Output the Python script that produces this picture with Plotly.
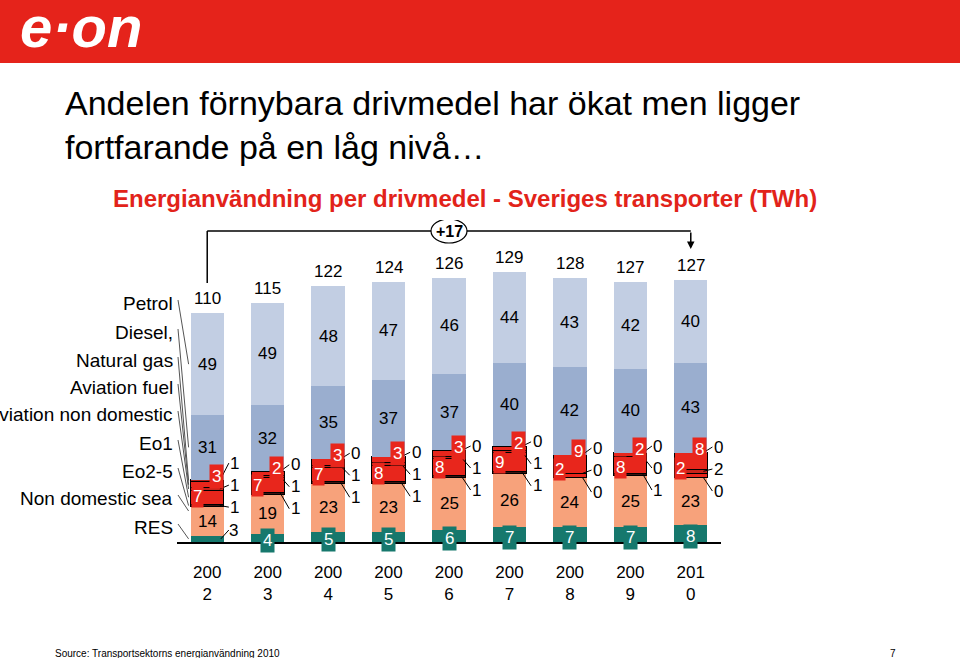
import plotly.graph_objects as go

# ---------------- data ----------------
years = ["2002", "2003", "2004", "2005", "2006", "2007", "2008", "2009", "2010"]
year_ticks = ["200<br>2", "200<br>3", "200<br>4", "200<br>5", "200<br>6",
              "200<br>7", "200<br>8", "200<br>9", "201<br>0"]
totals = [110, 115, 122, 124, 126, 129, 128, 127, 127]

# series, listed top-down as in the left-hand labels
petrol = [49, 49, 48, 47, 46, 44, 43, 42, 40]
diesel = [31, 32, 35, 37, 37, 40, 42, 40, 43]
natural_gas = [1, 0, 0, 0, 0, 0, 0, 0, 0]
aviation_fuel = [3, 2, 3, 3, 3, 2, 9, 2, 8]
aviation_non_domestic = [1, 1, 1, 1, 1, 1, 0, 0, 2]
eo1 = [7, 7, 7, 8, 8, 9, 2, 8, 2]
eo2_5 = [1, 1, 1, 1, 1, 1, 0, 1, 0]
non_domestic_sea = [14, 19, 23, 23, 25, 26, 24, 25, 23]
res = [3, 4, 5, 5, 6, 7, 7, 7, 8]

legend_names = ["Petrol", "Diesel,", "Natural gas", "Aviation fuel",
                "Aviation non domestic", "Eo1", "Eo2-5", "Non domestic sea", "RES"]
growth_label = "+17"
title_lines = ["Andelen förnybara drivmedel har ökat men ligger",
               "fortfarande på en låg nivå…"]
subtitle = "Energianvändning per drivmedel - Sveriges transporter (TWh)"
source = "Source: Transportsektorns energianvändning 2010"
page_no = "7"

# ---------------- layout geometry ----------------
W, H = 960, 658
L, R, T, B = 177, 721, 220, 542
XMIN, XMAX = -0.5, 8.5
PXU = 2.08
YMAX = (B - T) / PXU
FONT = "Liberation Sans, Arial, sans-serif"


def px_x(px):
    return (px - L) / (R - L)


def px_y(py):
    return (B - py) / (B - T)


def dx(px):
    return px * (XMAX - XMIN) / (R - L)


def dy(px):
    return px / PXU


x = list(range(len(years)))
HALF = 0.275

C_PETROL = "#c2cee3"
C_DIESEL = "#9aaecf"
C_RED = "#e8261c"
C_SALMON = "#f7a27b"
C_TEAL = "#16786d"

# stacking bottom-up
stack = [
    ("RES", res, C_TEAL, None),
    ("Non domestic sea", non_domestic_sea, C_SALMON, None),
    ("Eo2-5", eo2_5, "#3a1410", "black"),
    ("Eo1", eo1, C_RED, "black"),
    ("Aviation non domestic", aviation_non_domestic, "#c9231a", "black"),
    ("Aviation fuel", aviation_fuel, C_RED, "black"),
    ("Natural gas", natural_gas, "#b0201a", "black"),
    ("Diesel", diesel, C_DIESEL, None),
    ("Petrol", petrol, C_PETROL, None),
]

fig = go.Figure()
for name, vals, col, lc in stack:
    fig.add_trace(go.Bar(
        x=x, y=vals, name=name, width=0.55,
        marker=dict(color=col, line=dict(color=lc or col, width=1 if lc else 0)),
        hoverinfo="x+y+name", showlegend=False))

ann = []
shapes = []

# cumulative bases
bases = {}
cum = [0] * len(x)
for name, vals, col, lc in stack:
    bases[name] = cum[:]
    cum = [c + v for c, v in zip(cum, vals)]
tops = cum

for i in x:
    # totals
    ann.append(dict(x=i, y=tops[i], text=str(totals[i]), showarrow=False,
                    yanchor="bottom", yshift=3, font=dict(size=17, color="black")))
    # petrol / diesel / salmon labels
    for nm, vals in [("Petrol", petrol), ("Diesel", diesel), ("Non domestic sea", non_domestic_sea)]:
        ann.append(dict(x=i, y=bases[nm][i] + vals[i] / 2, text=str(vals[i]),
                        showarrow=False, font=dict(size=17, color="black")))
    # RES label
    if i == 0:
        lx, ly = i + HALF + dx(10), dy(12)
        ann.append(dict(x=lx, y=ly, text=str(res[i]), showarrow=False,
                        font=dict(size=17, color="black")))
        shapes.append(dict(type="line", x0=i + HALF - dx(3), y0=res[i] / 2,
                           x1=lx - dx(5), y1=ly, line=dict(color="black", width=1)))
    else:
        ann.append(dict(x=i, y=res[i] / 2, text=str(res[i]), showarrow=False,
                        bgcolor=C_TEAL, borderpad=2, yshift=-3,
                        font=dict(size=17, color="white")))
    # red block
    blk_bot = bases["Eo2-5"][i]
    blk_top = bases["Diesel"][i]
    blk_mid = (blk_bot + blk_top) / 2
    ann.append(dict(x=i - dx(10), y=blk_mid, text=str(eo1[i]), showarrow=False,
                    bgcolor=C_RED, borderpad=1, yshift=-3,
                    font=dict(size=17, color="white")))
    ann.append(dict(x=i + dx(9), y=blk_top, text=str(aviation_fuel[i]), showarrow=False,
                    bgcolor=C_RED, borderpad=2, yshift=3,
                    font=dict(size=17, color="white")))
    # small segments labelled outside to the right
    lx = i + HALF + dx(11)
    shift = 12 if i == 0 else 0
    for nm, vals, off in [("Natural gas", natural_gas, 18),
                          ("Aviation non domestic", aviation_non_domestic, -4),
                          ("Eo2-5", eo2_5, -26)]:
        ly = blk_mid + dy(off + shift)
        seg_y = bases[nm][i] + vals[i] / 2
        ann.append(dict(x=lx, y=ly, text=str(vals[i]), showarrow=False,
                        font=dict(size=17, color="black")))
        shapes.append(dict(type="line", x0=i + HALF - dx(4), y0=seg_y,
                           x1=lx - dx(6), y1=ly, line=dict(color="black", width=1)))

# left-hand category labels with leader lines to the first bar
label_py = [303, 332, 360, 387, 414, 443, 471, 498, 527]
seg_order = ["Petrol", "Diesel", "Natural gas", "Aviation fuel", "Aviation non domestic",
             "Eo1", "Eo2-5", "Non domestic sea", "RES"]
seg_vals = dict((nm, v) for nm, v, _, _ in stack)
for txt, py, nm in zip(legend_names, label_py, seg_order):
    ann.append(dict(x=px_x(175), y=px_y(py), xref="paper", yref="paper", text=txt,
                    showarrow=False, xanchor="right", yanchor="middle",
                    font=dict(size=19, color="black")))
    seg_y = bases[nm][0] + seg_vals[nm][0] / 2
    if nm == "Non domestic sea":
        seg_y = bases[nm][0] + seg_vals[nm][0] * 0.85
    shapes.append(dict(type="line", x0=XMIN + dx(1), y0=(B - py + 3) / PXU,
                       x1=-HALF - dx(2), y1=seg_y, line=dict(color="#555555", width=1)))

# bracket over the bars
yb = (B - 231) / PXU
shapes.append(dict(type="line", x0=0, x1=8, y0=yb, y1=yb, line=dict(color="black", width=1.5)))
shapes.append(dict(type="line", x0=0, x1=0, y0=yb, y1=(B - 283) / PXU,
                   line=dict(color="black", width=1.5)))
shapes.append(dict(type="circle", x0=4 - dx(18), x1=4 + dx(18), y0=yb - dy(12), y1=yb + dy(12),
                   fillcolor="white", line=dict(color="black", width=1.2)))
ann.append(dict(x=4, y=yb, text="<b>" + growth_label + "</b>", showarrow=False,
                font=dict(size=16, color="black")))
ann.append(dict(x=8, y=(B - 249) / PXU, ax=8, ay=yb, axref="x", ayref="y", text="",
                showarrow=True, arrowhead=2, arrowsize=1, arrowwidth=1.5, arrowcolor="black"))

# header banner, titles, footer (paper coordinates)
shapes.append(dict(type="rect", xref="paper", yref="paper", x0=px_x(0), x1=px_x(W),
                   y0=px_y(63), y1=px_y(0), fillcolor="#e5231b", line=dict(width=0), layer="below"))
ann.append(dict(x=px_x(18), y=px_y(26), xref="paper", yref="paper", text="<b><i>e·on</i></b>",
                showarrow=False, xanchor="left", yanchor="middle",
                font=dict(size=58, color="white", family="Liberation Sans, Arial")))
ann.append(dict(x=px_x(63), y=px_y(103), xref="paper", yref="paper", text=title_lines[0],
                showarrow=False, xanchor="left", yanchor="middle", font=dict(size=34, color="black")))
ann.append(dict(x=px_x(63), y=px_y(147), xref="paper", yref="paper", text=title_lines[1],
                showarrow=False, xanchor="left", yanchor="middle", font=dict(size=34, color="black")))
ann.append(dict(x=px_x(465), y=px_y(199), xref="paper", yref="paper", text="<b>" + subtitle + "</b>",
                showarrow=False, xanchor="center", yanchor="middle", font=dict(size=24, color="#e2231a")))
ann.append(dict(x=px_x(53), y=px_y(653), xref="paper", yref="paper", text=source,
                showarrow=False, xanchor="left", yanchor="middle", font=dict(size=10, color="black")))
ann.append(dict(x=px_x(893), y=px_y(653), xref="paper", yref="paper", text=page_no,
                showarrow=False, xanchor="center", yanchor="middle", font=dict(size=10, color="black")))

fig.update_layout(
    width=W, height=H, autosize=False,
    margin=dict(l=L, r=W - R, t=T, b=H - B, pad=0),
    barmode="stack", bargap=0.45,
    paper_bgcolor="white", plot_bgcolor="white",
    font=dict(family=FONT, size=17, color="black"),
    xaxis=dict(range=[XMIN, XMAX], tickvals=x, ticktext=year_ticks, showgrid=False,
               zeroline=False, showline=True, linecolor="black", linewidth=1.5,
               ticks="", ticklabelstandoff=14, tickfont=dict(size=17), fixedrange=True),
    yaxis=dict(range=[0, YMAX], visible=False, fixedrange=True),
    annotations=ann, shapes=shapes,
)

fig.write_html("out.html")
